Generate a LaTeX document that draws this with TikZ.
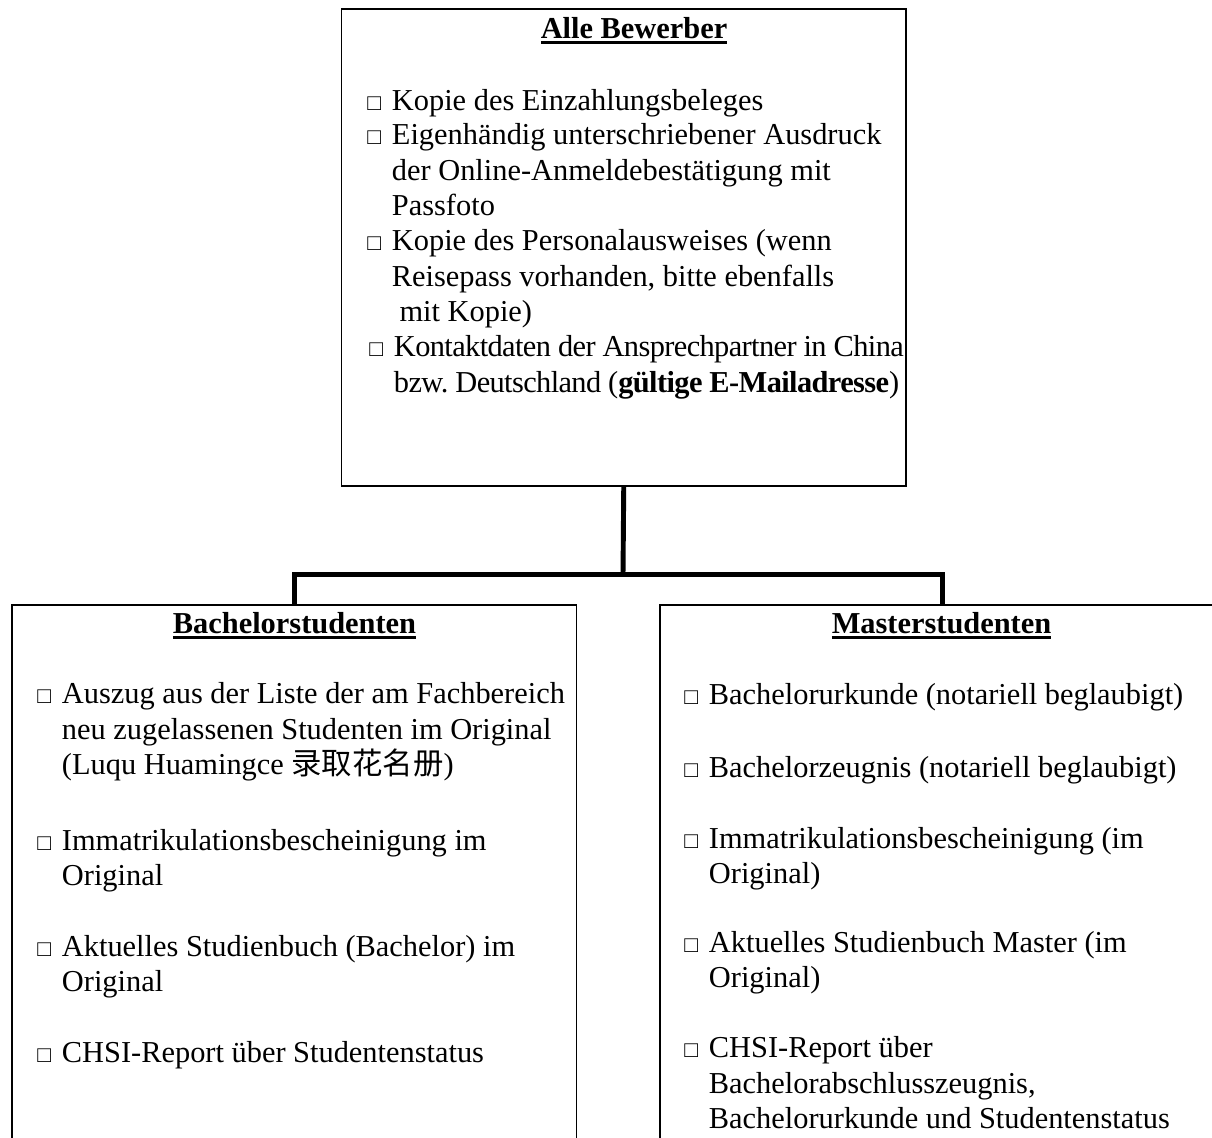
\documentclass[tikz,border=0pt]{standalone}
\usepackage{fontspec}
\setmainfont{Liberation Serif}
\newfontfamily\cjk{Noto Sans CJK SC}
\newcommand{\bodyfont}{\fontsize{17.3pt}{20.1pt}\selectfont}
\newcommand{\tight}{\addfontfeature{LetterSpace=-2}}
\newcommand{\cb}{\makebox[14pt][l]{\fontsize{13pt}{13pt}\selectfont □}}
\newcommand{\ind}{\hspace*{14pt}}
\newcommand{\ultitle}[1]{\setbox0=\hbox{#1}\rlap{\vrule height -1.8pt depth 3.2pt width \wd0}\box0}
\tikzset{
	listbox/.style={draw,line width=0.9pt,anchor=north west,inner sep=0pt,minimum width=11.3cm},
	connector/.style={line width=2.8pt},
	item/.style={anchor=base west,inner sep=0pt,align=left,font=\bodyfont},
	title/.style={anchor=base,inner sep=0pt,font=\bodyfont\bfseries}
}
\begin{document}
\begin{tikzpicture}[x=0.02cm,y=-0.02cm]
		\useasboundingbox (0,0) rectangle (1212,1137);
		\clip (0,0) rectangle (1212,1137);
		% boxes
		\node[listbox,minimum height=9.54cm] (top) at (340.5,8) {};
		\node[listbox,minimum height=12cm] (bach) at (11,604) {};
		\node[listbox,minimum height=12cm] (mast) at (659,604) {};
		% connectors
		\coordinate (bus) at (623,574.5);
		\draw [connector] (top.south) -- (bus);
		\draw [connector] (bach.north) |- (bus) -| (mast.north);
		% titles
		\node[title] (ttop) at (634,38) {\ultitle{Alle Bewerber}};
		\node[title] (tbach) at (294.5,633) {\ultitle{Bachelorstudenten}};
		\node[title] (tmast) at (941.5,633) {\ultitle{Masterstudenten}};
		% Alle Bewerber (base = last line)
		\node[item] (a1) at (367,110) {\cb Kopie des Einzahlungsbeleges};
		\node[item] (a2) at (367,215.6) {\cb Eigenhändig unterschriebener Ausdruck\\
			\ind der Online-Anmeldebestätigung mit\\ \ind Passfoto};
		\node[item] (a3) at (367,321.6) {\cb Kopie des Personalausweises (wenn\\
			\ind Reisepass vorhanden, bitte ebenfalls\\ \ind\ mit Kopie)};
		\node[item] (a4) at (369,392.3) {\tight\cb Kontaktdaten der Ansprechpartner in China\\
			\tight\ind bzw.\ Deutschland ({\bfseries\tight gültige E-Mailadresse})};
		% Bachelorstudenten
		\node[item] (b1) at (37,774.6) {\cb Auszug aus der Liste der am Fachbereich\\
			\ind neu zugelassenen Studenten im Original\\ \ind (Luqu Huamingce {\cjk 录取花名册})};
		\node[item] (b2) at (37,885.3) {\cb Immatrikulationsbescheinigung im\\ \ind Original};
		\node[item] (b3) at (37,991.3) {\cb Aktuelles Studienbuch (Bachelor) im\\ \ind Original};
		\node[item] (b4) at (37,1062) {\cb CHSI-Report über Studentenstatus};
		% Masterstudenten
		\node[item] (m1) at (684,704) {\cb Bachelorurkunde (notariell beglaubigt)};
		\node[item] (m2) at (684,777) {\cb Bachelorzeugnis (notariell beglaubigt)};
		\node[item] (m3) at (684,883.3) {\cb Immatrikulationsbescheinigung (im\\ \ind Original)};
		\node[item] (m4) at (684,987.3) {\cb Aktuelles Studienbuch Master (im\\ \ind Original)};
		\node[item] (m5) at (684,1128.6) {\cb CHSI-Report über\\ \ind Bachelorabschlusszeugnis,\\
			\ind Bachelorurkunde und Studentenstatus};
	\end{tikzpicture}
\end{document}
